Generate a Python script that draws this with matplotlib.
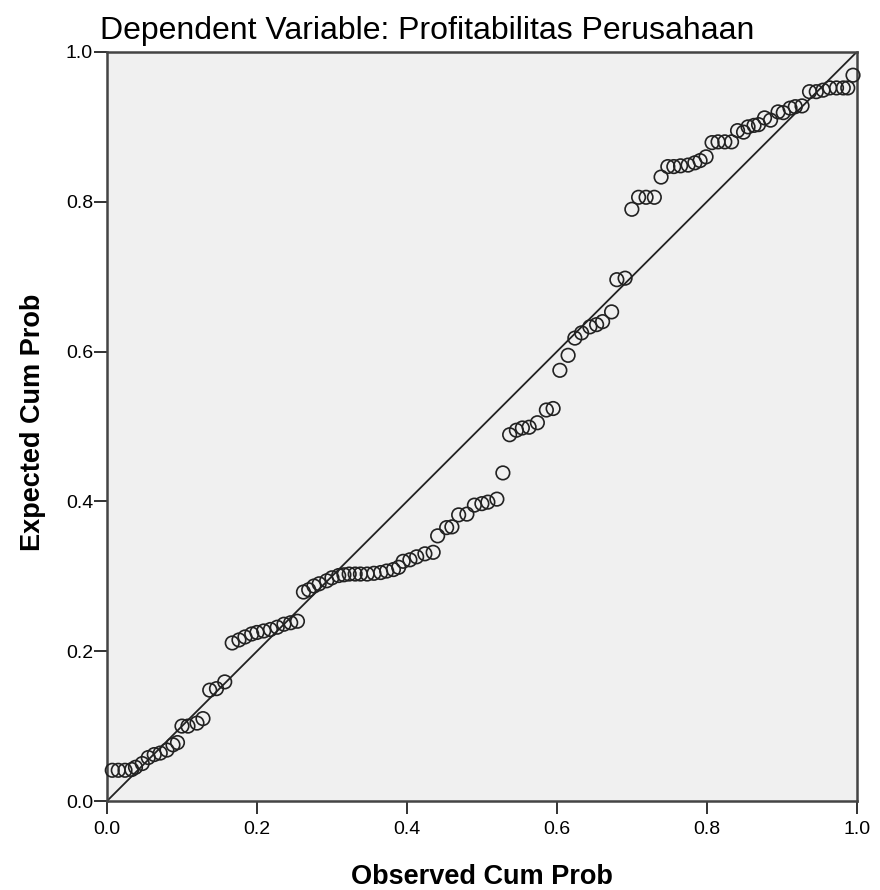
import matplotlib.pyplot as plt

# P-P plot values (observed vs expected cumulative probability)
observed = [0.007, 0.015, 0.024, 0.033, 0.038, 0.047, 0.055, 0.063, 0.071, 0.080,
            0.088, 0.094, 0.100, 0.108, 0.120, 0.128, 0.137, 0.146, 0.157,
            0.167, 0.176, 0.184, 0.193, 0.200, 0.209, 0.218, 0.227, 0.236, 0.245, 0.254,
            0.262, 0.269, 0.276, 0.283, 0.293, 0.300, 0.309, 0.316, 0.323, 0.331, 0.338,
            0.347, 0.356, 0.365, 0.373, 0.382, 0.389, 0.395, 0.404, 0.413, 0.424, 0.435,
            0.441, 0.453, 0.460, 0.469, 0.480, 0.490, 0.500, 0.508, 0.520, 0.528, 0.537,
            0.546, 0.554, 0.563, 0.574, 0.586, 0.595,
            0.604, 0.615, 0.624, 0.633, 0.644, 0.653, 0.661, 0.673, 0.680, 0.691, 0.700,
            0.709, 0.719, 0.730, 0.739, 0.748, 0.756, 0.765, 0.775, 0.784, 0.791, 0.799,
            0.807, 0.815, 0.824, 0.833, 0.841, 0.849, 0.855, 0.863, 0.869, 0.877, 0.885,
            0.895, 0.902, 0.911, 0.918, 0.927, 0.937, 0.946, 0.955, 0.964, 0.973, 0.982,
            0.988, 0.995]
expected = [0.041, 0.041, 0.041, 0.042, 0.045, 0.050, 0.058, 0.062, 0.064, 0.068,
            0.075, 0.078, 0.100, 0.100, 0.104, 0.110, 0.148, 0.150, 0.159,
            0.211, 0.215, 0.219, 0.223, 0.225, 0.227, 0.229, 0.232, 0.236, 0.238, 0.240,
            0.279, 0.282, 0.287, 0.290, 0.294, 0.298, 0.301, 0.302, 0.303, 0.303, 0.303,
            0.303, 0.304, 0.305, 0.307, 0.309, 0.312, 0.320, 0.322, 0.326, 0.330, 0.332,
            0.354, 0.365, 0.366, 0.382, 0.383, 0.395, 0.397, 0.399, 0.403, 0.438, 0.489,
            0.495, 0.498, 0.499, 0.505, 0.522, 0.524,
            0.575, 0.595, 0.618, 0.625, 0.633, 0.636, 0.640, 0.653, 0.696, 0.698, 0.790,
            0.806, 0.806, 0.806, 0.833, 0.847, 0.847, 0.848, 0.849, 0.852, 0.855, 0.860,
            0.879, 0.880, 0.880, 0.880, 0.895, 0.893, 0.900, 0.902, 0.903, 0.912, 0.909,
            0.920, 0.919, 0.925, 0.927, 0.928, 0.947, 0.947, 0.949, 0.952, 0.952, 0.952,
            0.952, 0.969]
ticks = [0.0, 0.2, 0.4, 0.6, 0.8, 1.0]
tick_labels = ['0.0', '0.2', '0.4', '0.6', '0.8', '1.0']

plt.rcParams['font.family'] = ['Liberation Sans', 'DejaVu Sans']

fig = plt.figure(figsize=(8.8, 8.9), dpi=100)
ax = fig.add_axes([0.1216, 0.1, 0.852, 0.8416])
ax.set_facecolor('#f0f0f0')

# reference diagonal
ax.plot([0, 1], [0, 1], color='#222222', linewidth=1.3, zorder=2)
ax.scatter(observed, expected, s=95, facecolors='none', edgecolors='#222222',
           linewidths=1.2, zorder=3, clip_on=False)

ax.set_xlim(0, 1)
ax.set_ylim(0, 1)
ax.set_xticks(ticks)
ax.set_xticklabels(tick_labels)
ax.set_yticks(ticks)
ax.set_yticklabels(tick_labels)
ax.tick_params(direction='out', length=9.5, width=1.3, colors='#222222',
               labelsize=14, labelcolor='black')
ax.tick_params(axis='x', pad=5)
ax.tick_params(axis='y', pad=0.5)
for s in ax.spines.values():
    s.set_linewidth(1.8)
    s.set_color('#444444')

ax.set_xlabel('Observed Cum Prob', fontsize=19.5, fontweight='bold')
ax.set_ylabel('Expected Cum Prob', fontsize=19.5, fontweight='bold')
ax.xaxis.set_label_coords(0.5, -0.084)
ax.yaxis.set_label_coords(-0.081, 0.505)
fig.text(0.486, 0.9565, 'Dependent Variable: Profitabilitas Perusahaan',
         fontsize=23, ha='center', va='baseline')

fig.savefig('out.png', dpi=100, facecolor='white')
